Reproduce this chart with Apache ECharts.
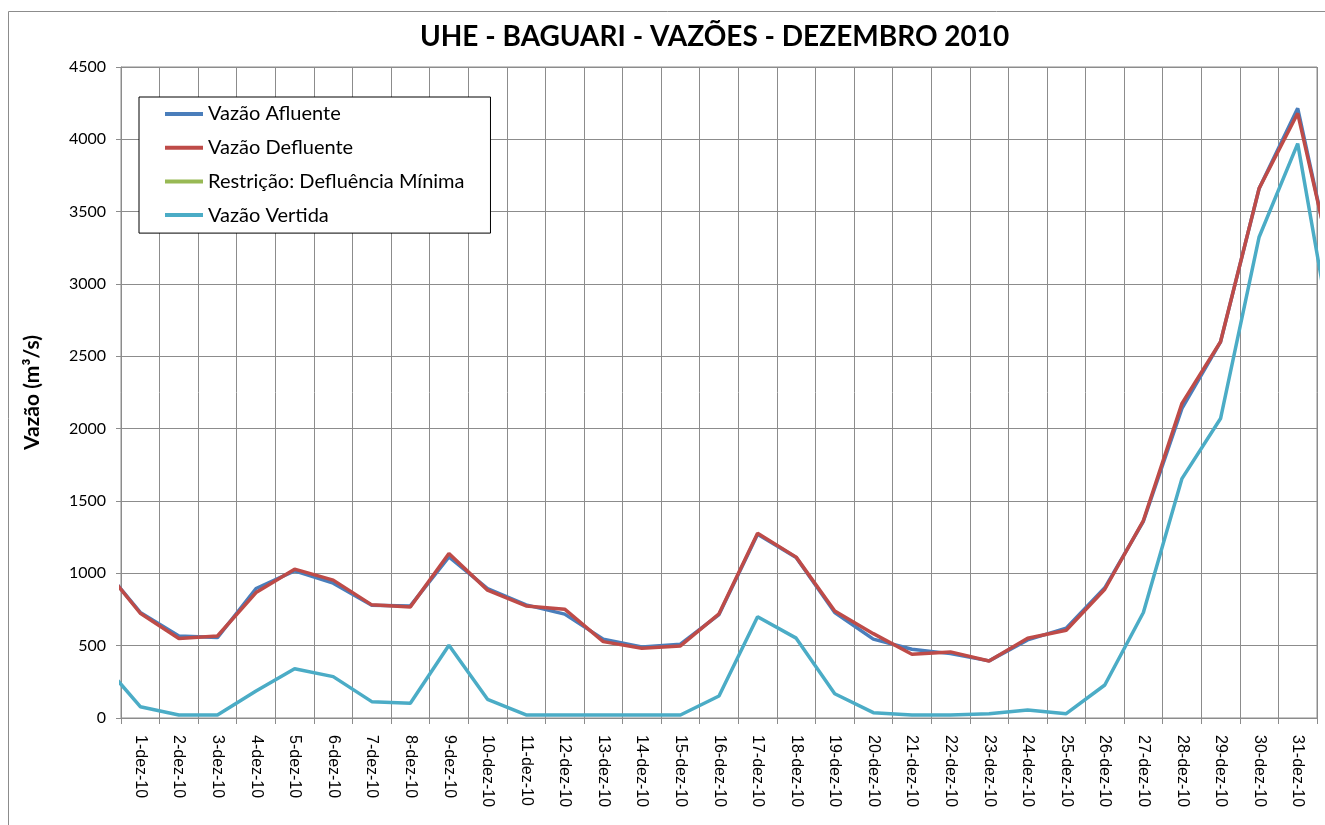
<!DOCTYPE html>
<html>
<head>
<meta charset="utf-8">
<script src="https://cdn.jsdelivr.net/npm/echarts@6/dist/echarts.min.js"></script>
<style>
  html, body { margin: 0; padding: 0; background: #fff; }
  #chart { width: 1325px; height: 825px; }
</style>
</head>
<body>
<div id="chart"></div>
<script>
// axis labels, one per day
const dias = [
  '1-dez-10', '2-dez-10', '3-dez-10', '4-dez-10', '5-dez-10', '6-dez-10', '7-dez-10',
  '8-dez-10', '9-dez-10', '10-dez-10', '11-dez-10', '12-dez-10', '13-dez-10', '14-dez-10',
  '15-dez-10', '16-dez-10', '17-dez-10', '18-dez-10', '19-dez-10', '20-dez-10', '21-dez-10',
  '22-dez-10', '23-dez-10', '24-dez-10', '25-dez-10', '26-dez-10', '27-dez-10', '28-dez-10',
  '29-dez-10', '30-dez-10', '31-dez-10'
];

// values run 30-nov .. 1-jan (first and last only show as clipped stubs at the edges)
const vazaoAfluente = [
  1050, 730, 567, 556, 895, 1017, 932, 780, 775, 1114, 895, 782, 718, 545, 491, 510,
  715, 1270, 1110, 729, 545, 475, 445, 395, 540, 621, 900, 1360, 2140, 2600, 3660, 4214, 2990
];
const vazaoDefluente = [
  1054, 724, 549, 567, 867, 1029, 953, 782, 768, 1137, 884, 775, 752, 528, 482, 498,
  720, 1277, 1112, 740, 583, 441, 457, 394, 551, 607, 890, 1365, 2175, 2601, 3661, 4180, 3004
];
const restricaoMinima = [];
const vazaoVertida = [
  388, 78, 21, 21, 187, 341, 286, 113, 102, 503, 129, 21, 21, 21, 21, 21,
  152, 700, 552, 168, 37, 21, 21, 30, 55, 30, 228, 729, 1655, 2070, 3325, 3970, 2451
];

const yTicks = { min: 0, max: 4500, interval: 500 };

// day index i sits in the middle of category slot i-1
const toXY = arr => arr.map((v, i) => [i - 0.5, v]);

const gridGray = '#8c8c8c';

const chart = echarts.init(document.getElementById('chart'), null, { renderer: 'canvas' });

const lineSeries = (name, color, values) => ({
  name: name,
  type: 'line',
  xAxisIndex: 1,
  data: toXY(values),
  symbol: 'none',
  clip: true,
  lineStyle: { color: color, width: 3.5 },
  itemStyle: { color: color }
});

chart.setOption({
  animation: false,
  title: {
    text: 'UHE - BAGUARI - VAZÕES - DEZEMBRO 2010',
    left: 415,
    top: 18,
    textStyle: { fontFamily: 'Lato', fontWeight: 'bold', fontSize: 28, color: '#000' }
  },
  graphic: [{
    type: 'rect',
    shape: { x: 8.5, y: 11.5, width: 1400, height: 900 },
    style: { fill: 'none', stroke: '#8c8c8c', lineWidth: 1 },
    silent: true
  }],
  legend: {
    orient: 'vertical',
    left: 139,
    top: 97,
    padding: [7, 26, 8, 26],
    itemGap: 13.7,
    itemWidth: 38,
    itemHeight: 4,
    icon: 'rect',
    borderColor: '#000',
    borderWidth: 1,
    backgroundColor: '#fff',
    textStyle: { fontFamily: 'Lato', fontSize: 20, color: '#000', lineHeight: 20 },
    data: ['Vazão Afluente', 'Vazão Defluente', 'Restrição: Defluência Mínima', 'Vazão Vertida']
  },
  grid: { left: 121, right: 8, top: 67, bottom: 107, show: true, borderColor: gridGray, borderWidth: 1 },
  xAxis: [{
    type: 'category',
    data: dias,
    boundaryGap: true,
    axisLine: { lineStyle: { color: gridGray, width: 1 } },
    axisTick: { show: true, length: 6, lineStyle: { color: gridGray } },
    axisLabel: {
      rotate: -90,
      margin: 17,
      interval: 0,
      fontFamily: 'Liberation Sans',
      fontSize: 16,
      color: '#000'
    },
    splitLine: { show: true, interval: 0, lineStyle: { color: gridGray, width: 1 } }
  }, {
    type: 'value',
    min: 0,
    max: 31,
    show: false
  }],
  yAxis: {
    type: 'value',
    min: yTicks.min,
    max: yTicks.max,
    interval: yTicks.interval,
    name: 'Vazão (m³/s)',
    nameLocation: 'middle',
    nameRotate: 90,
    nameGap: 78,
    nameTextStyle: { fontFamily: 'Lato', fontWeight: 'bold', fontSize: 21, color: '#000' },
    axisLine: { show: true, lineStyle: { color: gridGray, width: 1 } },
    axisTick: { show: true, length: 5, lineStyle: { color: gridGray } },
    axisLabel: { margin: 15, fontFamily: 'Lato', fontSize: 16, color: '#000', formatter: v => String(v) },
    splitLine: { show: true, lineStyle: { color: gridGray, width: 1 } }
  },
  series: [
    lineSeries('Vazão Afluente', '#4a7ebb', vazaoAfluente),
    lineSeries('Vazão Defluente', '#be4b48', vazaoDefluente),
    lineSeries('Restrição: Defluência Mínima', '#98b954', restricaoMinima),
    lineSeries('Vazão Vertida', '#4bacc6', vazaoVertida)
  ]
});
</script>
</body>
</html>
